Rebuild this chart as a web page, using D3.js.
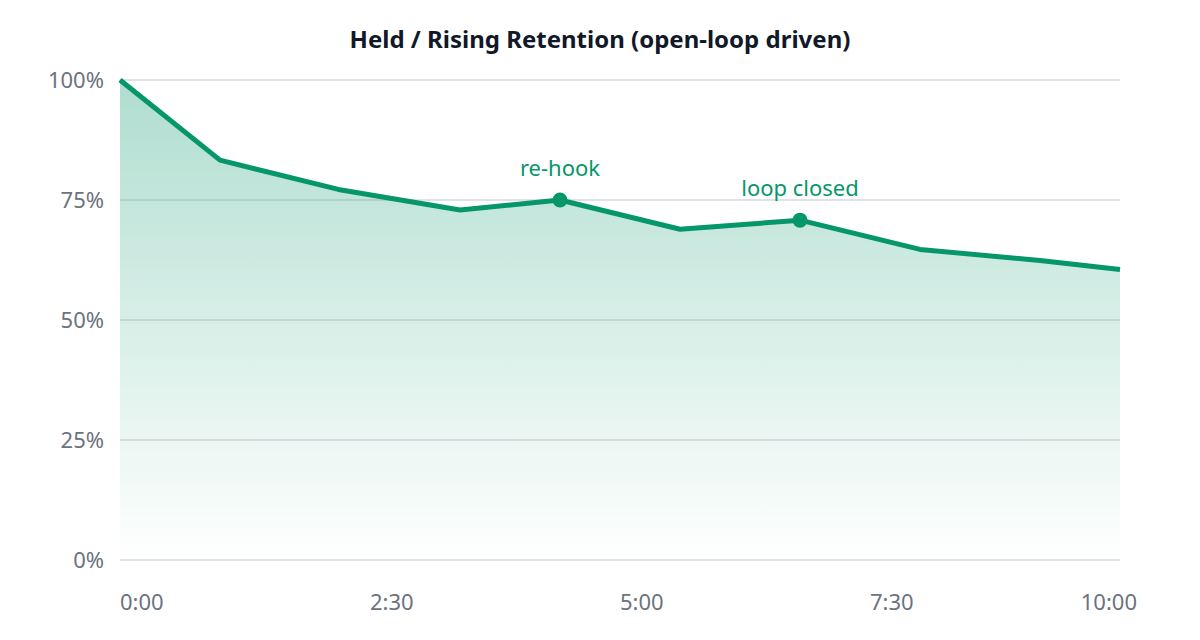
<!DOCTYPE html>
<html>
<head>
<meta charset="utf-8">
<script src="https://cdn.jsdelivr.net/npm/d3@7/dist/d3.min.js"></script>
<style>
  html, body { margin: 0; padding: 0; background: #ffffff; }
  svg { display: block; font-family: "Noto Sans", sans-serif; }
</style>
</head>
<body>
<svg id="chart" width="1200" height="640"></svg>
<script>
// ---- data ----
const title = "Held / Rising Retention (open-loop driven)";
const timesSec = [0, 60, 131, 204, 264, 336, 408, 480, 552, 600];
const retention = [100, 83.3, 77.2, 72.9, 75, 68.9, 70.8, 64.7, 62.4, 60.5];
const annotations = [
  { index: 4, label: "re-hook" },
  { index: 6, label: "loop closed" }
];
const yTicks = [0, 25, 50, 75, 100];
const xTicks = [0, 150, 300, 450, 600];

// ---- layout ----
const W = 1200, H = 640;
const m = { left: 120, right: 80, top: 80, bottom: 80 };
const svg = d3.select("#chart");
const green = "#059669";

const x = d3.scaleLinear().domain([0, 600]).range([m.left, W - m.right]);
const y = d3.scaleLinear().domain([0, 100]).range([H - m.bottom, m.top]);

const data = timesSec.map((t, i) => ({ t, v: retention[i] }));

// gradient
const defs = svg.append("defs");
const grad = defs.append("linearGradient")
  .attr("id", "areaGrad")
  .attr("gradientUnits", "userSpaceOnUse")
  .attr("x1", 0).attr("x2", 0)
  .attr("y1", y(100)).attr("y2", y(0));
grad.append("stop").attr("offset", "0%").attr("stop-color", green).attr("stop-opacity", 0.32);
grad.append("stop").attr("offset", "100%").attr("stop-color", green).attr("stop-opacity", 0.0);

// grid
svg.append("g").selectAll("line").data(yTicks).join("line")
  .attr("x1", x(0)).attr("x2", x(600))
  .attr("y1", d => y(d)).attr("y2", d => y(d))
  .attr("stroke", "#e5e7eb").attr("stroke-width", 1.5);

// area
const area = d3.area().x(d => x(d.t)).y0(y(0)).y1(d => y(d.v));
svg.append("path").datum(data)
  .attr("d", area)
  .attr("fill", "url(#areaGrad)");

// grid on top, faint, so it shows through the area
svg.append("g").selectAll("line").data(yTicks).join("line")
  .attr("x1", x(0)).attr("x2", x(600))
  .attr("y1", d => y(d)).attr("y2", d => y(d))
  .attr("stroke", "#9ca3af").attr("stroke-opacity", 0.18).attr("stroke-width", 1.5);

// line
const line = d3.line().x(d => x(d.t)).y(d => y(d.v));
svg.append("path").datum(data)
  .attr("d", line)
  .attr("fill", "none")
  .attr("stroke", green)
  .attr("stroke-width", 5)
  .attr("stroke-linejoin", "round");

// y labels
svg.append("g").selectAll("text").data(yTicks).join("text")
  .attr("x", m.left - 16)
  .attr("y", d => y(d))
  .attr("dy", "0.35em")
  .attr("text-anchor", "end")
  .attr("font-size", 22)
  .attr("fill", "#6b7280")
  .text(d => d + "%");

// x labels
const fmt = s => Math.floor(s / 60) + ":" + String(s % 60).padStart(2, "0");
svg.append("g").selectAll("text").data(xTicks).join("text")
  .attr("x", (d, i) => i === xTicks.length - 1 ? x(d) + 17 : x(d))
  .attr("y", 610)
  .attr("text-anchor", (d, i) => i === xTicks.length - 1 ? "end" : "start")
  .attr("font-size", 22)
  .attr("fill", "#6b7280")
  .text(fmt);

// annotations
const ann = svg.append("g");
ann.selectAll("circle").data(annotations).join("circle")
  .attr("cx", d => x(timesSec[d.index]))
  .attr("cy", d => y(retention[d.index]))
  .attr("r", 7.5)
  .attr("fill", green);
ann.selectAll("text").data(annotations).join("text")
  .attr("x", d => x(timesSec[d.index]))
  .attr("y", d => y(retention[d.index]) - 24)
  .attr("text-anchor", "middle")
  .attr("font-size", 22)
  .attr("fill", green)
  .text(d => d.label);

// title
svg.append("text")
  .attr("x", W / 2)
  .attr("y", 48)
  .attr("text-anchor", "middle")
  .attr("font-size", 24)
  .attr("font-weight", 700)
  .attr("fill", "#111827")
  .text(title);
</script>
</body>
</html>
